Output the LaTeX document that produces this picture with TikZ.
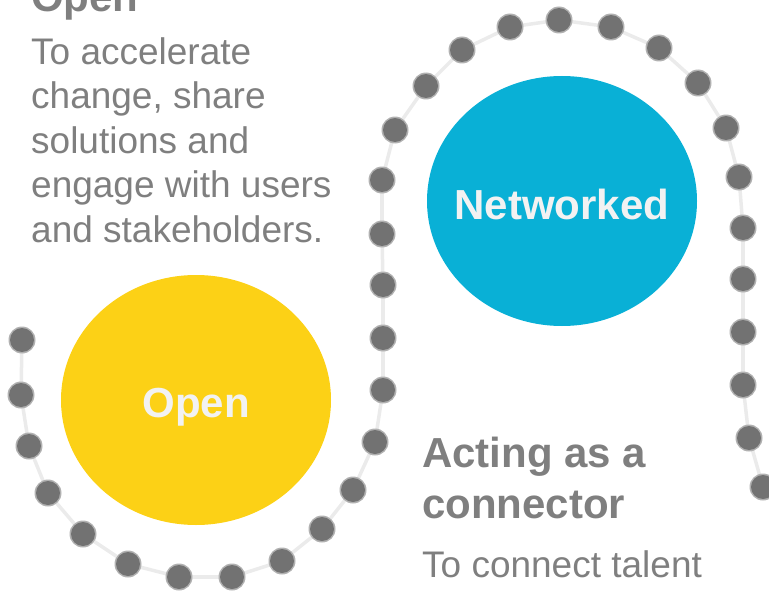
\documentclass[tikz,border=0pt]{standalone}
\usepackage{fontspec}
\setmainfont{Liberation Sans}
\usetikzlibrary{shapes.geometric}
\definecolor{dotgray}{HTML}{727272}
\definecolor{txtgray}{HTML}{7F7F7F}
\definecolor{sun}{HTML}{FCD116}
\definecolor{sky}{HTML}{09B0D6}
\definecolor{chain}{HTML}{EBEBEB}
\definecolor{label}{HTML}{F2F2F2}
\begin{document}
\begin{tikzpicture}[x=1pt,y=-1pt,
  beadhalo/.style={circle,fill=dotgray!55,minimum size=27pt,inner sep=0pt},
  bead/.style={circle,fill=dotgray,minimum size=24pt,inner sep=0pt},
  blob/.style={ellipse,minimum width=270pt,minimum height=250pt,inner sep=0pt},
  blobtext/.style={anchor=base,inner sep=0pt,text=label,font=\fontsize{42}{50}\selectfont\bfseries},
  head/.style={anchor=base west,inner sep=0pt,text=txtgray,font=\fontsize{42}{50}\selectfont\bfseries},
  body/.style={anchor=base west,inner sep=0pt,text=txtgray,font=\fontsize{37}{44}\selectfont},
  link/.style={draw=chain,line width=3.5pt,line cap=round},
]
\useasboundingbox (0,0) rectangle (769,594);

% positions of the beads along the winding string
\foreach \px/\py [count=\i] in {22/340,21/395,29/446,48/493,83/534,128/564,
  179/577,232/577,282/561,322/529,353/490,375/442,383/390,383/338,
  383/285,382/234,382/180,395/130,426/86,462/50,510/27,559/20,
  611/27,659/48,698/83,726/128,739/177,743/228,743/279,743/332,
  743/385,749/438,763/487}
  \coordinate (d\i) at (\px,\py);

% faint string joining consecutive beads
\foreach \i [evaluate=\i as \j using int(\i+1)] in {1,...,32}
  \draw[link] (d\i) -- (d\j);

% the beads, each with a soft rim
\foreach \i in {1,...,33}{
  \node[beadhalo] (h\i) at (d\i) {};
  \node[bead] (b\i) at (d\i) {};
}

% the two discs
\node[blob,fill=sun] (open) at (196,400) {};
\node[blobtext] (openlbl) at (196,417) {Open};
\node[blob,fill=sky] (net) at (562,201) {};
\node[blobtext] (netlbl) at (562,219) {Networked};

% text column on the left
\node[head] (h1) at (31,12) {Open};
\node[body] (t1) at (31,65) {To accelerate};
\node[body] (t2) at (31,109) {change, share};
\node[body] (t3) at (31,153) {solutions and};
\node[body] (t4) at (31,197) {engage with users};
\node[body] (t5) at (31,242) {and stakeholders.};

% text column in the middle
\node[head] (h2) at (422,467) {Acting as a};
\node[head] (h3) at (422,518) {connector};
\node[body] (t6) at (422,577) {To connect talent};
\end{tikzpicture}
\end{document}
